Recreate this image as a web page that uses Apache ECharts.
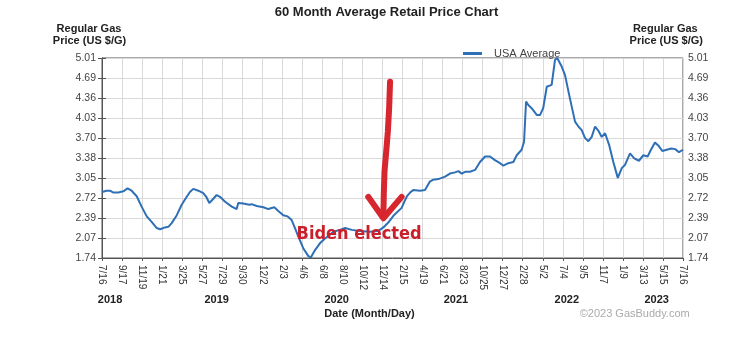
<!DOCTYPE html>
<html><head><meta charset="utf-8">
<script src="https://cdn.jsdelivr.net/npm/echarts@6/dist/echarts.min.js"></script>
<style>html,body{margin:0;padding:0;background:#fff}#c{width:738px;height:339px}</style>
</head><body><div id="c"></div>
<script>
// x tick labels (every 9 weeks from 7/16/2018)
const weekTickLabels = ['7/16','9/17','11/19','1/21','3/25','5/27','7/29','9/30','12/2','2/3','4/6','6/8','8/10','10/12','12/14','2/15','4/19','6/21','8/23','10/25','12/27','2/28','5/2','7/4','9/5','11/7','1/9','3/13','5/15','7/16'];
const yTickValues = [1.74,2.067,2.394,2.721,3.048,3.375,3.702,4.029,4.356,4.683,5.01];
const yTickLabels = ['1.74','2.07','2.39','2.72','3.05','3.38','3.70','4.03','4.36','4.69','5.01'];
const yearLabels = ['2018','2019','2020','2021','2022','2023'];
const yearWeeks = [3.6,51.5,105.4,159,208.8,249.2];
const seriesName = 'USA Average';
// weeks since 7/16/2018 and the average price read at that week
const weeks = [0,2.1,3.6,5.1,7.3,9.6,11.5,13.3,15.6,17.8,20.1,22.3,24.6,26.1,28.3,29.8,31.3,33.6,35.8,37.7,39.5,41,43.3,45.5,47,48.2,49.3,51.5,53,55.3,58.3,60.5,61.2,63.5,66.2,
67.2,69.5,72.5,74.7,77.4,79.2,81.4,83.4,85.2,86.7,88.2,90.4,92.7,93.8,95.7,97.9,100.2,102.4,103.9,106.9,109.2,112.2,115.9,120.4,124,126.4,128.6,130.9,134.6,135.8,137,138.4,
139.8,142.9,145.1,147.3,148.8,151.1,152.6,154.1,156.3,158.6,160.1,161.6,163.1,165.3,167.6,169.8,172.1,174.3,176.5,178.8,180.3,182.5,184.8,186.3,188.5,189.6,190.5,191.5,193,195.3,196.8,198.2,199.8,202,
203.5,204.5,206.5,208,210.2,212.5,214,215.5,217,218.5,220,221.5,223,224.5,226,227.8,229.7,231.7,233.5,234.9,237.2,239.1,241.2,243.2,245.1,246.6,248.4,249.9,251.7,253.7,255.7,257.5,259.2,261];
const prices = [2.82,2.84,2.84,2.81,2.81,2.83,2.88,2.84,2.75,2.58,2.42,2.33,2.23,2.21,2.24,2.25,2.31,2.44,2.61,2.72,2.82,2.87,2.84,2.80,2.73,2.64,2.68,2.77,2.74,2.66,2.58,2.54,2.64,2.63,2.61,
2.62,2.59,2.57,2.54,2.57,2.51,2.44,2.42,2.36,2.23,2.09,1.90,1.77,1.75,1.87,1.98,2.06,2.12,2.17,2.20,2.23,2.20,2.18,2.17,2.18,2.24,2.32,2.43,2.56,2.66,2.75,2.81,
2.85,2.84,2.85,2.99,3.02,3.03,3.05,3.07,3.12,3.14,3.16,3.12,3.15,3.15,3.18,3.31,3.40,3.40,3.34,3.29,3.25,3.29,3.31,3.42,3.51,3.64,4.30,4.24,4.19,4.08,4.08,4.19,4.54,4.57,
4.98,5.01,4.87,4.73,4.35,3.97,3.89,3.83,3.70,3.65,3.72,3.89,3.82,3.72,3.78,3.59,3.31,3.05,3.21,3.26,3.45,3.37,3.33,3.42,3.40,3.51,3.63,3.58,3.49,3.51,3.53,3.52,3.47,3.51];
// hand-drawn annotation (in data coords: week, price)
const arrowShaft = [[129.4,4.62],[129.0,4.20],[128.4,3.80],[127.6,3.45],[126.9,3.15],[126.6,2.80],[126.4,2.42]];
const arrowHead = [[119.6,2.74],[126.4,2.39],[134.6,2.74]];
const annotText = 'Biden elected';
const annotPos = [115.5,2.13];

const FONT = '"Liberation Sans", Arial, sans-serif';
const nearest = (arr, v) => { let b=0; for (let i=1;i<arr.length;i++) if (Math.abs(arr[i]-v)<Math.abs(arr[b]-v)) b=i; return b; };
const axisCol = '#555';
const gridCol = '#d9d9d9';

const chart = echarts.init(document.getElementById('c'), null, {renderer:'canvas'});
const yAxisBase = (pos, margin) => ({
  type:'value', min:1.74, max:5.01, position:pos,
  axisLine:{show:true, lineStyle:{color:axisCol}},
  axisTick:{show:true, length:4, inside:false, customValues:yTickValues, lineStyle:{color:axisCol}},
  axisLabel:{customValues:yTickValues, formatter:v=>yTickLabels[nearest(yTickValues,v)], color:'#444', fontSize:10.5, fontFamily:FONT, margin:margin},
  splitLine:{show:pos==='left', lineStyle:{color:gridCol, width:1}}
});
const labelText = (id, text, x, y, font, fill) => ({id:id, type:'text', x:x, y:y, z:50, style:{text:text, font:font, fill:fill, align:'center', verticalAlign:'middle'}});
chart.setOption({
  animation:false,
  grid:{left:102, right:55, top:58, bottom:81, show:true, borderColor:axisCol, borderWidth:1, containLabel:false, outerBoundsMode:'none'},
  legend:{data:[seriesName], left:458, top:43, icon:'rect', itemWidth:19, itemHeight:3,
    textStyle:{fontSize:11, color:'#444', fontFamily:FONT, padding:[0,0,0,7]}},
  xAxis:[{
    type:'value', min:0, max:261, interval:9, position:'bottom',
    axisLine:{show:true, lineStyle:{color:axisCol}},
    axisTick:{show:true, length:3, lineStyle:{color:axisCol}},
    axisLabel:{rotate:-90, formatter:v=>weekTickLabels[Math.round(v/9)], fontSize:10, color:'#333', fontFamily:FONT, margin:7, showMinLabel:true, showMaxLabel:true},
    splitLine:{show:true, lineStyle:{color:gridCol, width:1}}
  },{
    type:'value', min:0, max:261, position:'bottom', offset:36,
    axisLine:{show:false}, axisTick:{show:false}, splitLine:{show:false},
    axisLabel:{customValues:yearWeeks, formatter:v=>yearLabels[nearest(yearWeeks,v)], fontSize:11, fontWeight:'bold', color:'#222', fontFamily:FONT, margin:0}
  }],
  yAxis:[yAxisBase('left',6), yAxisBase('right',5)],
  series:[{
    name:seriesName, type:'line', xAxisIndex:0, yAxisIndex:0,
    data:weeks.map((w,i)=>[w,prices[i]]),
    showSymbol:false, smooth:false, color:'#2f6fb6',
    lineStyle:{width:2, color:'#2f6fb6'}, z:3
  }],
  graphic:[
    labelText('title','60 Month Average Retail Price Chart',386.5,12,'bold 13px '+FONT,'#222'),
    labelText('yl1','Regular Gas',89,28.5,'bold 11px '+FONT,'#222'),
    labelText('yl2','Price (US $/G)',89.5,41,'bold 11px '+FONT,'#222'),
    labelText('yr1','Regular Gas',665.3,28.5,'bold 11px '+FONT,'#222'),
    labelText('yr2','Price (US $/G)',666.3,41,'bold 11px '+FONT,'#222'),
    labelText('xname','Date (Month/Day)',369.5,314,'bold 11px '+FONT,'#222'),
    labelText('copy','\u00A92023 GasBuddy.com',634.7,314,'11px '+FONT,'#aaa')
  ]
});

// annotation positioned through the grid's own coordinate conversion
const px = p => chart.convertToPixel({gridIndex:0}, p);
const tp = px(annotPos);
chart.setOption({graphic:[
  {id:'shaft', type:'polyline', z:60, shape:{points:arrowShaft.map(px)}, style:{stroke:'#d7262e', lineWidth:6, lineCap:'round', lineJoin:'round', fill:null}},
  {id:'head', type:'polyline', z:60, shape:{points:arrowHead.map(px)}, style:{stroke:'#d7262e', lineWidth:6, lineCap:'round', lineJoin:'round', fill:null}},
  {id:'annot', type:'text', z:60, x:tp[0], y:tp[1], style:{text:annotText, font:'bold 18px "DejaVu Sans Condensed", "Liberation Sans Narrow", sans-serif', fill:'#c9202c', align:'center', verticalAlign:'middle'}}
]});
</script></body></html>
